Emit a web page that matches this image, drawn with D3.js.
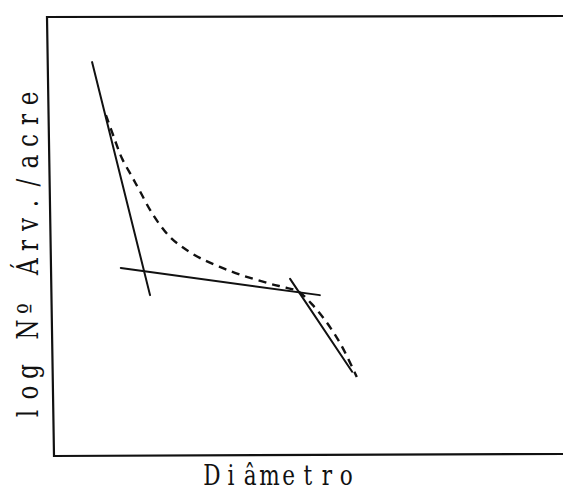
<!DOCTYPE html>
<html>
<head>
<meta charset="utf-8">
<script src="https://cdn.jsdelivr.net/npm/d3@7"></script>
<style>
  html, body { margin: 0; padding: 0; background: #fff; }
  svg { display: block; }
  text { font-family: "DejaVu Serif", "Liberation Serif", serif; fill: #111; }
</style>
</head>
<body>
<svg id="chart" width="563" height="493"></svg>
<script>
// Diameter distribution (log number of trees per acre vs diameter), arbitrary units 0-100
const steepSegment = [[8.2, 89.7], [19.5, 36.5]];
const flatSegment  = [[13.8, 42.7], [52.6, 36.5]];
const tailSegment  = [[46.8, 40.2], [58.9, 19.0]];
const observedCurve = [
  [10.9, 77.6], [12.5, 72.4], [14.0, 67.8], [16.0, 63.5], [17.5, 60.3],
  [20.0, 55.0], [23.2, 50.0], [26.0, 47.3], [29.2, 45.0], [33.0, 43.0],
  [37.0, 41.2], [42.9, 39.1], [46.0, 38.2], [48.3, 37.4], [51.0, 34.5],
  [53.8, 30.5], [56.8, 25.0], [59.8, 17.8]
];
const xLabel = "Diâmetro";
const yLabel = "log Nº Árv./acre";

const svg = d3.select("#chart");
const x = d3.scaleLinear().domain([0, 100]).range([50, 563]);
const y = d3.scaleLinear().domain([0, 100]).range([455, 17]);

// Plot frame: left and bottom axes plus top border (right side open)
const [x0, x1] = x.range();
const [yb, yt] = y.range();
svg.append("path")
  .attr("d", `M${x1},${yt - 1} L${x0 - 3},${yt} L${x0 + 4},${yb + 1} L${x1},${yb - 1}`)
  .attr("fill", "none").attr("stroke", "#111").attr("stroke-width", 2.2)
  .attr("stroke-linejoin", "miter");

const line = d3.line().x(d => x(d[0])).y(d => y(d[1]));

// Fitted straight segments
[steepSegment, flatSegment, tailSegment].forEach(seg => {
  svg.append("path")
    .attr("d", line(seg))
    .attr("fill", "none").attr("stroke", "#111").attr("stroke-width", 2)
    .attr("stroke-linecap", "round");
});

// Observed curve (dashed)
svg.append("path")
  .attr("d", line.curve(d3.curveCatmullRom.alpha(0.5))(observedCurve))
  .attr("fill", "none").attr("stroke", "#111").attr("stroke-width", 2.4)
  .attr("stroke-dasharray", "8,6");

// Typewriter-style label: each (slightly condensed) character centred in a fixed-width cell
function typed(g, str, pitch, size) {
  const chars = Array.from(str);
  const start = -pitch * (chars.length - 1) / 2;
  g.selectAll("text").data(chars).join("text")
    .attr("transform", (d, i) => `translate(${start + i * pitch},0) scale(0.8,1)`)
    .attr("text-anchor", "middle")
    .attr("font-size", size)
    .text(d => d);
}

typed(svg.append("g").attr("transform", "translate(279,485)"), xLabel, 19.2, 27);
typed(svg.append("g").attr("transform", "translate(38,256) rotate(-90)"), yLabel, 21, 29);
</script>
</body>
</html>
